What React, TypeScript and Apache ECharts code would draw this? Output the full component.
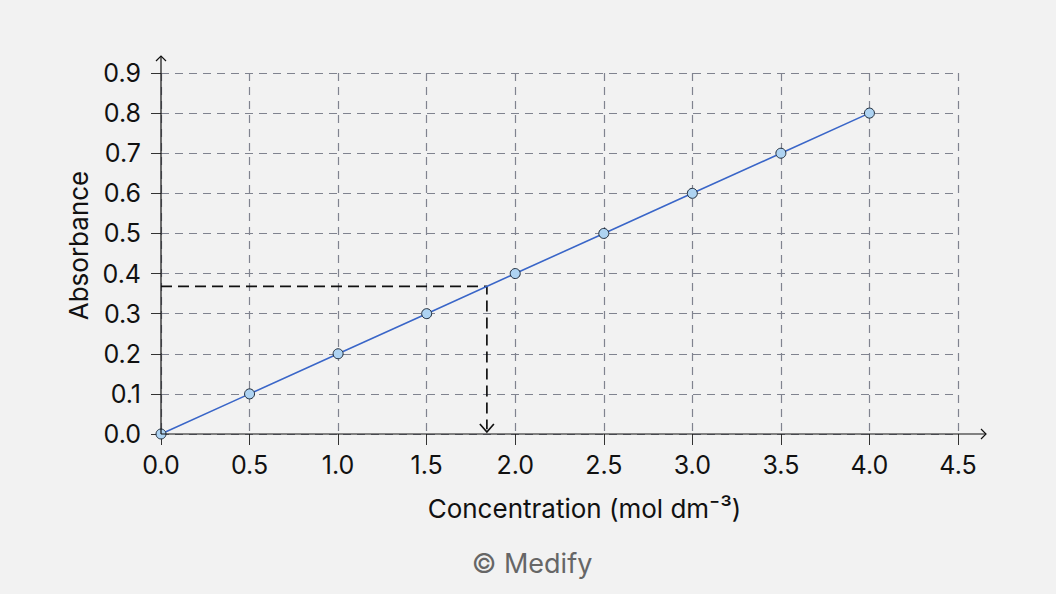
import React, { useEffect, useRef } from "react";
import * as echarts from "echarts";

const concentration = [0, 0.5, 1.0, 1.5, 2.0, 2.5, 3.0, 3.5, 4.0];
const absorbance = [0, 0.1, 0.2, 0.3, 0.4, 0.5, 0.6, 0.7, 0.8];
const unknownAbs = 0.368;
const unknownConc = 1.84;
const xMax = 4.5;
const yMax = 0.9;

const FONT = "Inter";

export default function App() {
  const ref = useRef<HTMLDivElement>(null);
  useEffect(() => {
    if (!ref.current) return;
    const chart = echarts.init(ref.current, undefined, { renderer: "svg" });
    const gridLine = { show: true, lineStyle: { color: "#80838f", width: 1.2, type: [8, 6] as any } };
    chart.setOption({
      animation: false,
      backgroundColor: "#f2f2f2",
      grid: { left: 161, right: 98, top: 73, bottom: 160 },
      xAxis: {
        type: "value",
        min: 0,
        max: xMax,
        interval: 0.5,
        name: "Concentration (mol dm⁻³)",
        nameLocation: "middle",
        nameGap: 61,
        nameTextStyle: { fontFamily: FONT, fontSize: 26, color: "#111", padding: [0, 0, 0, 50] },
        axisLine: { show: false },
        axisTick: { show: true, length: 11, lineStyle: { color: "#333", width: 1 } },
        axisLabel: {
          fontFamily: FONT,
          fontSize: 25,
          color: "#111",
          margin: 18,
          formatter: (v: number) => v.toFixed(1),
        },
        splitLine: gridLine,
      },
      yAxis: {
        type: "value",
        min: 0,
        max: yMax,
        interval: 0.1,
        name: "Absorbance",
        nameLocation: "middle",
        nameGap: 68,
        nameRotate: 90,
        nameTextStyle: { fontFamily: FONT, fontSize: 26, color: "#111", padding: [0, 0, 0, 16] },
        axisLine: { show: false },
        axisTick: { show: true, length: 10, lineStyle: { color: "#333", width: 1 } },
        axisLabel: {
          fontFamily: FONT,
          fontSize: 25,
          color: "#111",
          margin: 20,
          formatter: (v: number) => v.toFixed(1),
        },
        splitLine: gridLine,
      },
      series: [
        {
          type: "line",
          data: [
            [0, unknownAbs],
            [unknownConc, unknownAbs],
            [unknownConc, 0.012],
          ],
          symbol: "none",
          lineStyle: { color: "#111", width: 1.7, type: [11, 6] as any },
          z: 3,
        },
        {
          type: "line",
          data: concentration.map((c, i) => [c, absorbance[i]]),
          symbol: "circle",
          symbolSize: 10,
          lineStyle: { color: "#3a66c8", width: 1.6 },
          itemStyle: { color: "#aed3f2", borderColor: "#1d2a3a", borderWidth: 1 },
          z: 4,
        },
      ],
    });

    const o = chart.convertToPixel({ gridIndex: 0 }, [0, 0]) as number[];
    const xe = chart.convertToPixel({ gridIndex: 0 }, [xMax, yMax]) as number[];
    const arr = chart.convertToPixel({ gridIndex: 0 }, [unknownConc, 0]) as number[];
    const xEnd = xe[0] + 28;
    const yEnd = xe[1] - 17;
    chart.setOption({
      graphic: [
        { type: "line", shape: { x1: o[0], y1: o[1], x2: xEnd, y2: o[1] }, style: { stroke: "#111", lineWidth: 1.2 }, z: 10 },
        { type: "polyline", shape: { points: [[xEnd - 5, o[1] - 5], [xEnd, o[1]], [xEnd - 5, o[1] + 5]] }, style: { stroke: "#111", lineWidth: 1.2, fill: "none" }, z: 10 },
        { type: "line", shape: { x1: o[0], y1: o[1], x2: o[0], y2: yEnd }, style: { stroke: "#111", lineWidth: 1.2 }, z: 10 },
        { type: "polyline", shape: { points: [[o[0] - 5, yEnd + 5], [o[0], yEnd], [o[0] + 5, yEnd + 5]] }, style: { stroke: "#111", lineWidth: 1.2, fill: "none" }, z: 10 },
        { type: "polyline", shape: { points: [[arr[0] - 7, arr[1] - 10], [arr[0], arr[1] - 2], [arr[0] + 7, arr[1] - 10]] }, style: { stroke: "#111", lineWidth: 1.7, fill: "none" }, z: 10 },
        {
          type: "text",
          x: 532,
          y: 563,
          style: { text: "© Medify", fontFamily: FONT, fontSize: 27, fill: "#666", align: "center", verticalAlign: "middle" },
        },
      ],
    });
    return () => chart.dispose();
  }, []);
  return <div ref={ref} style={{ width: 1056, height: 594, position: "absolute", left: 0, top: 0 }} />;
}
